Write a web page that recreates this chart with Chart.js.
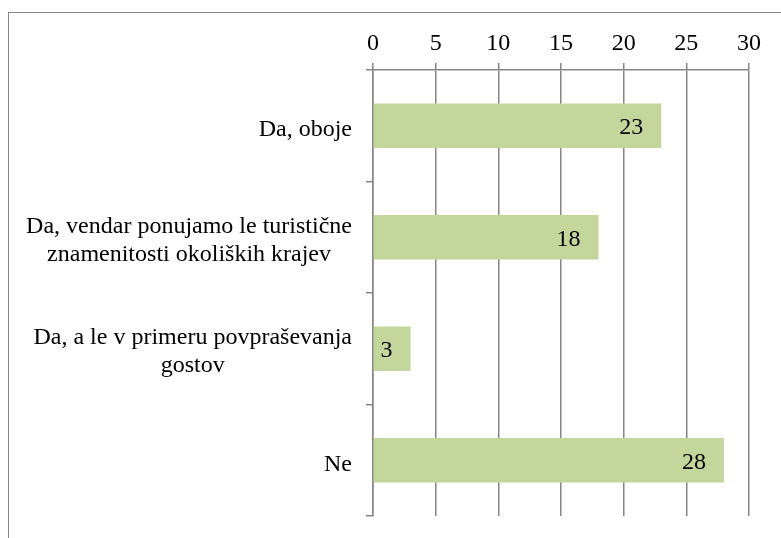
<!DOCTYPE html>
<html>
<head>
<meta charset="utf-8">
<script src="https://cdn.jsdelivr.net/npm/chart.js@4/dist/chart.umd.min.js"></script>
<style>
    html, body { margin: 0; padding: 0; background: #fff; overflow: hidden; }
    #wrap { position: relative; width: 781px; height: 538px; }
    #frame {
        position: absolute; left: 8px; top: 12px; width: 800px; height: 600px;
        border-left: 1px solid #868686; border-top: 1px solid #868686;
    }
    #chart { position: absolute; left: 0; top: 0; }
    #probe { position: absolute; left: -999px; font-family: "Liberation Serif"; font-size: 24px; }
</style>
</head>
<body>
<div id="wrap">
    <div id="frame"></div>
    <canvas id="chart" width="781" height="538"></canvas>
</div>
<span id="probe">Da, oboje 0123456789 čš</span>
<script>
// kategorije (vrstice po dve, kot na sliki)
const categories = [
    ['Da, oboje'],
    ['Da, vendar ponujamo le turistične', 'znamenitosti okoliških krajev'],
    ['Da, a le v primeru povpraševanja', 'gostov'],
    ['Ne']
];
const values = [23, 18, 3, 28];

const X_MIN = 0;
const X_MAX = 30;
const X_STEP = 5;

const FONT = '"Liberation Serif", "Times New Roman", serif';
const FONT_SIZE = 24;
const GRID = '#868686';
const BAR = '#c3d69b';

// napisi kategorij: blok desno poravnan, vrstice sredinsko
const categoryLabels = {
    id: 'categoryLabels',
    afterDraw(chart) {
        const ctx = chart.ctx;
        const y = chart.scales.y;
        const right = y.right - 21;
        const lh = 28;
        ctx.save();
        ctx.font = FONT_SIZE + 'px ' + FONT;
        ctx.fillStyle = '#000';
        ctx.textAlign = 'center';
        ctx.textBaseline = 'middle';
        categories.forEach((lines, i) => {
            const cy = y.getPixelForValue(i);
            let maxW = 0;
            lines.forEach(l => { maxW = Math.max(maxW, ctx.measureText(l).width); });
            const cx = right - maxW / 2;
            const top = cy - (lines.length - 1) * lh / 2 + (lines.length > 1 ? 3 : 4);
            lines.forEach((l, k) => ctx.fillText(l, cx, top + k * lh));
        });
        ctx.restore();
    }
};

// vrednosti znotraj stolpcev
const valueLabels = {
    id: 'valueLabels',
    afterDatasetsDraw(chart) {
        const ctx = chart.ctx;
        const meta = chart.getDatasetMeta(0);
        ctx.save();
        ctx.font = FONT_SIZE + 'px ' + FONT;
        ctx.fillStyle = '#000';
        ctx.textAlign = 'right';
        ctx.textBaseline = 'middle';
        meta.data.forEach((bar, i) => {
            ctx.fillText(String(values[i]), bar.x - 18, bar.y + 2);
        });
        ctx.restore();
    }
};

function draw() {
    new Chart(document.getElementById('chart').getContext('2d'), {
        type: 'bar',
        data: {
            labels: categories,
            datasets: [{
                data: values,
                backgroundColor: BAR,
                borderWidth: 0,
                barPercentage: 0.4,
                categoryPercentage: 1
            }]
        },
        options: {
            indexAxis: 'y',
            responsive: false,
            animation: false,
            events: [],
            layout: { padding: { top: 0, left: 0, right: 32, bottom: 22 } },
            plugins: {
                legend: { display: false },
                tooltip: { enabled: false }
            },
            scales: {
                x: {
                    position: 'top',
                    min: X_MIN,
                    max: X_MAX,
                    ticks: {
                        stepSize: X_STEP,
                        color: '#000',
                        font: { family: FONT, size: FONT_SIZE },
                        padding: 5
                    },
                    grid: { color: GRID, lineWidth: 1.5, tickLength: 7 },
                    border: { color: GRID, width: 1.5 },
                    afterFit(scale) { scale.height = 70; }
                },
                y: {
                    ticks: { display: false },
                    grid: { offset: true, drawOnChartArea: false, color: GRID, lineWidth: 1.5, tickLength: 7 },
                    border: { color: GRID, width: 1.5 },
                    afterFit(scale) { scale.width = 373; }
                }
            }
        },
        plugins: [categoryLabels, valueLabels]
    });
}

document.fonts.load(FONT_SIZE + 'px "Liberation Serif"').then(draw, draw);
</script>
</body>
</html>
